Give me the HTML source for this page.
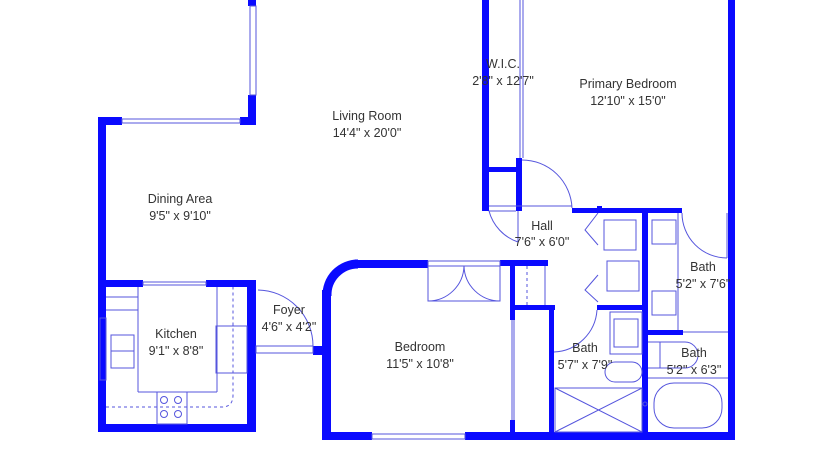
<!DOCTYPE html>
<html><head><meta charset="utf-8"><style>
html,body{margin:0;padding:0;background:#fff;}
svg{display:block;}
text{font-family:"Liberation Sans",sans-serif;font-size:12.5px;fill:#333;text-anchor:middle;}
</style></head><body>
<svg width="835" height="467" viewBox="0 0 835 467" xmlns="http://www.w3.org/2000/svg">
<g fill="#0a0aff" stroke="none">
<rect x="98" y="117" width="8" height="315"/>
<rect x="98" y="117" width="24" height="8"/>
<rect x="240" y="117" width="16" height="8"/>
<rect x="248" y="95" width="8" height="30"/>
<rect x="248" y="0" width="8" height="6"/>
<rect x="106" y="280" width="37" height="7"/>
<rect x="206" y="280" width="50" height="7"/>
<rect x="247" y="280" width="9" height="152"/>
<rect x="98" y="424" width="158" height="8"/>
<rect x="313" y="346" width="12" height="9"/>
<rect x="322" y="290" width="9" height="150"/>
<rect x="355" y="260" width="73" height="8"/>
<rect x="500" y="260" width="48" height="6"/>
<rect x="322" y="432" width="50" height="8"/>
<rect x="465" y="432" width="270" height="8"/>
<rect x="510" y="260" width="5" height="60"/>
<rect x="510" y="420" width="5" height="14"/>
<rect x="510" y="305" width="45" height="5"/>
<rect x="549" y="305" width="5" height="135"/>
<rect x="597" y="305" width="48" height="5"/>
<rect x="642" y="208" width="6" height="232"/>
<rect x="572" y="208" width="110" height="5"/>
<rect x="728" y="0" width="7" height="440"/>
<rect x="648" y="330" width="35" height="5"/>
<rect x="482" y="0" width="7" height="211"/>
<rect x="482" y="167" width="40" height="5"/>
<rect x="516" y="158" width="6" height="53"/>
<rect x="597" y="206" width="5" height="6"/>
</g>
<path d="M327,290 L327,296 A31,31 0 0 1 358,264 L355,264" fill="none" stroke="#0a0aff" stroke-width="9"/>
<g fill="none" stroke="#5555dd" stroke-width="1">
<rect x="250" y="6" width="6" height="89"/>
<rect x="122" y="119" width="118" height="4"/>
<rect x="143" y="282" width="63" height="3"/>
<rect x="100" y="318" width="6" height="62"/>
<rect x="372" y="434" width="93" height="5"/>
<rect x="256" y="346" width="57" height="7"/>
<line x1="106" y1="297" x2="138" y2="297"/>
<line x1="106" y1="310" x2="138" y2="310"/>
<line x1="138" y1="287" x2="138" y2="392"/>
<line x1="138" y1="392" x2="217" y2="392"/>
<line x1="217" y1="287" x2="217" y2="392"/>
<rect x="216" y="326" width="31" height="47"/>
<rect x="111" y="335" width="23" height="33"/>
<line x1="111" y1="351" x2="134" y2="351"/>
<rect x="157" y="392" width="30" height="32"/>
<circle cx="164" cy="400" r="3.5"/><circle cx="178" cy="400" r="3.5"/>
<circle cx="164" cy="414" r="3.5"/><circle cx="178" cy="414" r="3.5"/>
<path d="M106,407 L222,407 Q233,407 233,395 L233,287" stroke-dasharray="3,3"/>
<path d="M258,290 A56,56 0 0 1 313,346"/>
<rect x="428" y="261" width="72" height="5"/>
<rect x="428" y="266" width="72" height="35"/>
<path d="M428,301 A36,36 0 0 0 464,266 M500,301 A36,36 0 0 1 464,266"/>
<line x1="512" y1="320" x2="512" y2="420"/><line x1="514" y1="320" x2="514" y2="420"/>
<line x1="527" y1="266" x2="527" y2="305" stroke-dasharray="3,3"/>
<line x1="545" y1="266" x2="545" y2="305"/>
<line x1="520" y1="0" x2="520" y2="158"/><line x1="523" y1="0" x2="523" y2="158"/>
<path d="M522,160 A50,50 0 0 1 572,208"/>
<line x1="489" y1="206" x2="572" y2="206"/><line x1="489" y1="211" x2="516" y2="211"/>
<path d="M489,211 A45,45 0 0 0 518,242"/>
<line x1="518" y1="211" x2="518" y2="242"/>
<rect x="604" y="220" width="32" height="30"/>
<rect x="607" y="261" width="32" height="30"/>
<path d="M598,213 L585,230 L598,245 M598,275 L585,290 L598,302"/>
<rect x="652" y="220" width="24" height="24"/>
<rect x="652" y="291" width="24" height="24"/>
<line x1="678" y1="213" x2="678" y2="330"/>
<path d="M682,213 A45,45 0 0 0 727,258"/>
<line x1="727" y1="213" x2="727" y2="258"/>
<line x1="683" y1="332" x2="728" y2="332"/>
<path d="M554,352 A45,45 0 0 0 597,310"/>
<rect x="610" y="312" width="32" height="42"/>
<rect x="614" y="319" width="24" height="28"/>
<rect x="605" y="362" width="37" height="20" rx="10"/>
<rect x="555" y="388" width="87" height="44"/>
<path d="M555,388 L642,432 M642,388 L555,432"/>
<path d="M648,342 L685,342 A13,13 0 0 1 685,368 L648,368"/>
<line x1="660" y1="342" x2="660" y2="368"/>
<line x1="648" y1="378" x2="728" y2="378"/>
<rect x="654" y="383" width="68" height="45" rx="20"/>
<circle cx="645" cy="404" r="2"/>
</g>
<text x="180" y="203">Dining Area</text><text x="180" y="220">9'5" x 9'10"</text>
<text x="367" y="120">Living Room</text><text x="367" y="137">14'4" x 20'0"</text>
<text x="503" y="68">W.I.C.</text><text x="503" y="85">2'8" x 12'7"</text>
<text x="628" y="88">Primary Bedroom</text><text x="628" y="105">12'10" x 15'0"</text>
<text x="542" y="230">Hall</text><text x="542" y="246">7'6" x 6'0"</text>
<text x="703" y="271">Bath</text><text x="703" y="288">5'2" x 7'6"</text>
<text x="176" y="338">Kitchen</text><text x="176" y="355">9'1" x 8'8"</text>
<text x="289" y="314">Foyer</text><text x="289" y="331">4'6" x 4'2"</text>
<text x="420" y="351">Bedroom</text><text x="420" y="368">11'5" x 10'8"</text>
<text x="585" y="352">Bath</text><text x="585" y="369">5'7" x 7'9"</text>
<text x="694" y="357">Bath</text><text x="694" y="374">5'2" x 6'3"</text>
</svg>
</body></html>
